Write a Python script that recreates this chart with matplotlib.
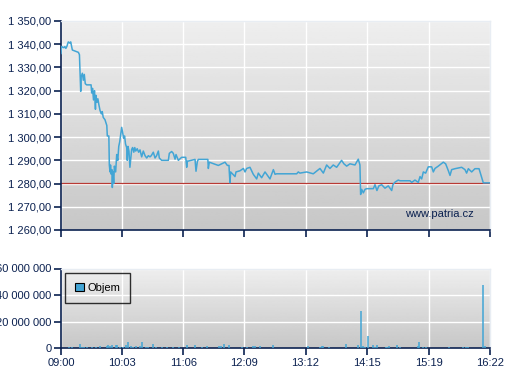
import numpy as np
import matplotlib
matplotlib.use('Agg')
import matplotlib.pyplot as plt

plt.rcParams['font.family'] = ['Liberation Sans', 'DejaVu Sans']

# minutes after 09:00 and price
price_t = [0, 0.5, 3, 4, 5, 6, 7.5, 9, 10, 11.7, 17.9, 19, 20.3, 20.8, 22, 23, 24, 25, 26.4,
           31, 31.6, 32.5, 33.5, 34.5, 35.5, 36, 37, 38, 39, 40.2, 41.5, 42.5, 43.5, 45.3,
           46.5, 47.2, 47.7, 49.3, 49.8, 50.5, 51, 51.8, 52.4, 52.9, 53.5, 54.3, 55, 56.3,
           57.4, 58.5, 59.5, 60.5, 61.5, 62.5, 63.5, 64.5, 65.5, 66.5, 67.7, 68.3, 69, 70,
           71, 72.8, 73.8, 75, 76, 77, 78.5, 80, 81.4, 83.1, 84.8, 86.6, 88.3, 90, 91.7,
           93, 95.1, 96.9, 98.5, 100.3, 101.3, 103.7, 110.6, 111.6, 114, 115.7, 117.5,
           118.5, 120.9, 124.3, 128.5, 129.5, 130.2, 131.2, 138.1, 139.1, 140.5, 141.5,
           151.3, 151.8, 152.8, 162.1, 169, 171.4, 173.1, 173.4, 174.1, 174.8, 179.3,
           180.3, 184.4, 187.9, 189.6, 191.3, 194.7, 198.1, 201.6, 203.3, 206.7, 210.2,
           215.3, 218.8, 220.5, 222.2, 242.8, 244.5, 246.2, 253.1, 259.9, 266.8, 270.3,
           273.7, 277.1, 280.5, 284, 289.1, 291.5, 294.3, 297.7, 302.9, 306.3, 308,
           308.7, 309.8, 311.5, 313.2, 314.9, 321.8, 323.5, 325.5, 327.5, 330.4, 333.8,
           337.2, 340.7, 342, 344.1, 347.5, 349.3, 359.6, 361.3, 364.7, 368.1, 369.9,
           371.6, 373.3, 375.7, 378.4, 381.9, 383.6, 385.3, 388.7, 393.9, 396.3, 399.1,
           400.8, 402.5, 405.9, 412.8, 416.2, 417.9, 419.7, 423.1, 426.5, 430.7, 435.1, 442]
price_v = [1336, 1339, 1338.5, 1339, 1338.2, 1339, 1341, 1340.5, 1341, 1337.5, 1336.5, 1335.5,
           1319.7, 1326, 1327.5, 1324.5, 1327, 1323, 1322.5, 1322.5, 1319, 1321, 1316, 1320,
           1312, 1318, 1315, 1316.5, 1314, 1311.5, 1310, 1311, 1308.5, 1307.5, 1306, 1305,
           1300.5, 1300.5, 1288, 1285, 1288, 1284, 1286, 1278.3, 1285, 1280, 1287.5, 1285,
           1292.5, 1290, 1296, 1298, 1301, 1304.2, 1302, 1299.5, 1300.5, 1297, 1295.5, 1290,
           1296, 1294, 1287, 1294.7, 1295.5, 1293.5, 1295.5, 1294, 1295, 1293.5, 1294.5,
           1291.5, 1294, 1292, 1291, 1292, 1291.5, 1292, 1293.5, 1291, 1292, 1294, 1291,
           1290, 1290, 1293, 1293.8, 1293, 1290.5, 1292.5, 1290, 1291.3, 1291.3, 1287,
           1289.7, 1289.7, 1290.4, 1285.3, 1289.5, 1290.4, 1290.4, 1286.5, 1289.2, 1287.8,
           1289.2, 1287.8, 1287.8, 1285.0, 1280.3, 1285, 1283, 1285, 1285.5, 1286.5, 1285,
           1286.5, 1287, 1284, 1282, 1284.5, 1282.5, 1285, 1282, 1286, 1284, 1284.2, 1284.2,
           1285, 1284.5, 1285, 1284.2, 1286.5, 1284.5, 1288, 1286.5, 1288, 1287, 1290,
           1288.5, 1287.5, 1288.5, 1288, 1290.5, 1288, 1275.3, 1277.5, 1276, 1277.5, 1277.8,
           1277.8, 1279.5, 1277, 1279, 1279.5, 1278, 1279, 1277, 1279.5, 1280.6, 1281.5,
           1281.2, 1281.2, 1280.5, 1281.5, 1280.5, 1283, 1282, 1285, 1284.5, 1287.2, 1287.2,
           1285, 1286.5, 1287.5, 1289.2, 1288.5, 1285.5, 1283.5, 1286, 1286.4, 1287, 1286,
           1284.5, 1286.4, 1285, 1286.4, 1286.4, 1280.3, 1280.3]

prev_close = 1280.3

# volume bars (minutes, millions)
vol_t = [8.6, 11, 19.6, 21.3, 23.7, 26.5, 31.6, 36, 40.2, 47.1, 48.8, 50.5, 52.9, 56.7, 58,
         60.8, 64.2, 67, 69.4, 71.8, 74.5, 77.3, 81.4, 83.8, 87.3, 90, 95.1, 97.9, 103.7,
         109.5, 115.7, 121.9, 130.1, 138.1, 144.9, 150.1, 162.4, 164.5, 167.9, 173.4,
         186.1, 191.3, 197.5, 199.9, 205, 218.8, 254.8, 266.8, 268.6, 269.6, 276.5, 293.6,
         306.3, 309.1, 310.8, 312.9, 316.6, 321.8, 323.5, 325.3, 334.5, 336.2, 338.3,
         346.5, 349.3, 368.1, 369.2, 373.3, 376.1, 399.8, 414.5, 417.3, 419.7, 435.1, 436.8]
vol_m = [0.8, 0.7, 3.0, 0.8, 0.9, 0.7, 0.6, 0.8, 1.2, 1.5, 2.2, 1.8, 2.5, 2.0, 2.0,
         0.7, 0.8, 2.0, 4.3, 1.2, 0.8, 1.5, 1.2, 4.3, 0.8, 0.8, 2.8, 1.0, 0.6,
         0.6, 0.6, 0.6, 2.0, 2.0, 0.6, 1.2, 1.2, 1.5, 2.8, 2.0,
         0.6, 0.6, 1.2, 1.5, 1.8, 2.5, 1.7, 0.8, 1.3, 1.7, 1.0, 3.3,
         2.5, 28.3, 1.3, 0.8, 9.3, 2.5, 0.8, 2.5, 0.8, 0.8, 1.5,
         2.5, 0.8, 1.5, 4.3, 0.8, 0.8, 0.6, 0.8, 0.8, 0.8, 47.3, 1.3]

x_ticks = [0, 63, 126, 189, 252, 315, 379, 442]
x_labels = ['09:00', '10:03', '11:06', '12:09', '13:12', '14:15', '15:19', '16:22']
price_ticks = [1260, 1270, 1280, 1290, 1300, 1310, 1320, 1330, 1340, 1350]
vol_ticks = [0, 20, 40, 60]

navy = '#0b2150'
blue = '#42a5d5'

fig = plt.figure(figsize=(5.07, 3.80), dpi=100)
ax1 = fig.add_axes([61 / 507, 1 - 230 / 380, 429 / 507, 209 / 380])
ax2 = fig.add_axes([61 / 507, 1 - 348 / 380, 429 / 507, 79.5 / 380])

grad = np.linspace(0.935, 0.78, 100).reshape(-1, 1)
for ax in (ax1, ax2):
    ax.imshow(grad, cmap='gray', vmin=0, vmax=1, aspect='auto', extent=[0, 1, 0, 1],
              transform=ax.transAxes, zorder=0)
    ax.set_xlim(0, 442)
    ax.set_xticks(x_ticks)
    ax.grid(True, color='white', lw=1.0, zorder=1)
    ax.set_axisbelow(True)
    for s in ('left', 'bottom'):
        ax.spines[s].set_color(navy)
        ax.spines[s].set_linewidth(1.2)
    for s in ('top', 'right'):
        ax.spines[s].set_color('#e8edf3')
        ax.spines[s].set_linewidth(1.0)
    ax.tick_params(direction='out', length=5, width=1.2, color=navy, labelcolor=navy,
                   labelsize=8, pad=2)

ax1.plot(price_t, price_v, color=blue, lw=1.1, zorder=3)
ax1.axhline(prev_close, color='#b83a35', lw=0.9, zorder=2)
ax1.set_ylim(1260, 1350)
ax1.set_yticks(price_ticks)
ax1.set_yticklabels(['1 %03d,00' % (v - 1000) for v in price_ticks])
ax1.set_xticklabels([])
ax1.text(0.962, 0.055, 'www.patria.cz', transform=ax1.transAxes, ha='right', va='bottom',
         color=navy, fontsize=8, zorder=4)

ax2.vlines(vol_t, 0, vol_m, color=blue, lw=1.1, zorder=3)
ax2.set_ylim(0, 60)
ax2.set_yticks(vol_ticks)
ax2.set_yticklabels(['0' if v == 0 else '%d 000 000' % v for v in vol_ticks])
ax2.set_xticklabels(x_labels)
ax2.bar([0], [0], color=blue, edgecolor='black', lw=0.8, label='Objem')
leg = ax2.legend(loc='upper left', fontsize=8, frameon=True, fancybox=False,
                 handlelength=0.8, handleheight=0.8, handletextpad=0.3,
                 borderpad=0.9, borderaxespad=0, bbox_to_anchor=(0.01, 0.945))
leg.get_frame().set_edgecolor('black')
leg.get_frame().set_facecolor('none')
leg.get_frame().set_linewidth(1.0)
for t in leg.get_texts():
    t.set_color('black')

fig.savefig('out.png', dpi=100)
